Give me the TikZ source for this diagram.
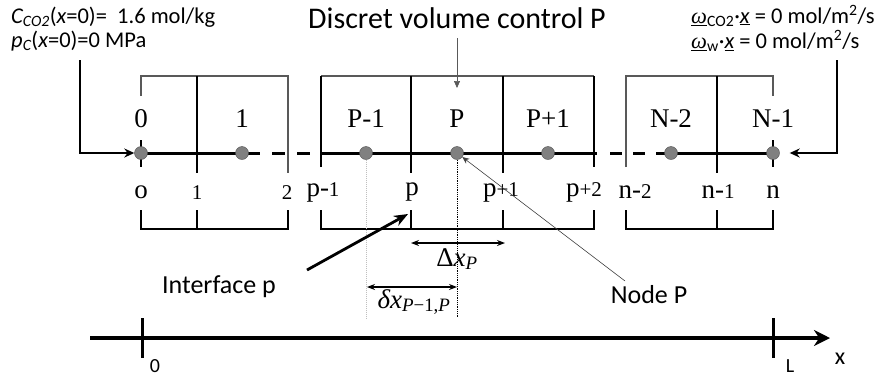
\documentclass[tikz,border=0pt]{standalone}
\usepackage{fontspec}
\setmainfont{Liberation Serif}
\newfontfamily\calibri{Carlito}
\usetikzlibrary{arrows.meta,positioning}

\newcommand{\dg}[1]{{\fontsize{21}{24}\selectfont #1}}

\tikzset{
  cvnode/.style={circle,fill=gray,draw=gray!60!black,line width=0.4pt,inner sep=0pt,minimum size=13pt},
  cell/.style={font=\fontsize{27}{30}\selectfont},
  face/.style={font=\fontsize{27}{30}\selectfont},
  sans/.style={font=\calibri\fontsize{22.5}{24}\selectfont,inner sep=0pt},
  tag/.style={font=\calibri\fontsize{26}{28}\selectfont},
  wall/.style={draw=gray!70!black,line width=1.3pt},
  edge/.style={line width=1.6pt},
  iface/.style={line width=2.2pt},
  mesh/.style={line width=3pt},
  dim/.style={line width=1.2pt,{Stealth[length=8pt,width=6pt]}-{Stealth[length=8pt,width=6pt]}},
}

\begin{document}
\begin{tikzpicture}[x=1pt,y=-1pt]
\useasboundingbox (0,0) rectangle (883,376);

% boundary conditions
\node[sans,anchor=west] (bcl1) at (11,17) {{\itshape C}\textsubscript{\itshape CO2}({\itshape x}=0)=~ 1.6 mol/kg};
\node[sans,anchor=west] (bcl2) at (11,41) {{\itshape p}\textsubscript{\itshape C}({\itshape x}=0)=0 MPa};
\node[sans,anchor=west] (bcr1) at (691,16) {\underline{\rmfamily\itshape ω}\textsubscript{CO2}·\underline{\itshape x} = 0 mol/m\textsuperscript{2}/s};
\node[sans,anchor=west] (bcr2) at (691,41) {\underline{\rmfamily\itshape ω}\textsubscript{w}·\underline{\itshape x} = 0 mol/m\textsuperscript{2}/s};

% top of the cells
\draw[wall] (141,96) -- (141,76) -- (288,76) -- (288,173);
\draw[wall] (321,76) -- (594,76);
\draw[edge] (321,167) -- (321,76);
\draw[edge] (594,76) -- (594,167);
\draw[wall] (626,167) -- (626,76) -- (773,76) -- (773,96);
\foreach \x in {197,411,503,717}
  \draw[iface] (\x,76) -- (\x,173);

% mesh line
\coordinate (d1) at (260,153);
\coordinate (d2) at (272,153);
\coordinate (d3) at (321,153);
\coordinate (d4) at (597,153);
\coordinate (d5) at (610,153);
\coordinate (d6) at (666,153);
\draw[mesh] (141,153) -- (d1);
\draw[mesh,dash pattern=on 13pt off 12pt] (d2) -- (d3);
\draw[mesh] (d3) -- (d4);
\draw[mesh,dash pattern=on 12pt off 11pt] (d5) -- (d6);
\draw[mesh] (d6) -- (773,153);
\draw[line width=1.5pt] (141,140) -- (141,167);
\draw[line width=1.5pt] (773,140) -- (773,167);

% nodes
\node[cvnode] (n0) at (141,153) {};
\node[cvnode] (n1) at (242,153) {};
\node[cvnode] (nPm) at (366,153) {};
\node[cvnode] (nP) at (457,153) {};
\node[cvnode] (nPp) at (548,153) {};
\node[cvnode] (nNm) at (671,153) {};
\node[cvnode] (nN) at (773,153) {};

\node[cell] at (141,119) {0};
\node[cell] at (242,119) {1};
\node[cell] at (366,119) {P-1};
\node[cell] at (457,119) {P};
\node[cell] at (548,119) {P+1};
\node[cell] at (671,119) {N-2};
\node[cell] at (773,119) {N-1};

% boundary arrows
\coordinate (bl) at (80,60);
\coordinate (br) at (837,60);
\draw[line width=1.8pt,-{Stealth[length=10pt,width=9pt]}] (bl) |- (n0.west);
\draw[line width=1.8pt,-{Stealth[length=10pt,width=9pt]},shorten >=10pt] (br) |- (nN.east);

% face labels
\node[face] at (141,192) {o};
\node[face] at (197,193) {\dg{1}};
\node[face] at (287,193) {\dg{2}};
\node[face] at (323,192) {p-\dg{1}};
\node[face] at (412,192) {p};
\node[face] at (501,192) {p\dg{+1}};
\node[face] at (584,192) {p\dg{+2}};
\node[face] at (635,192) {n-\dg{2}};
\node[face] at (718,192) {n-\dg{1}};
\node[face] at (773,192) {n};

% bottom brackets
\draw[line width=1.5pt] (141,210) -- (141,229) -- (288,229) -- (288,210);
\draw[line width=1.5pt] (321,210) -- (321,229) -- (594,229) -- (594,210);
\draw[line width=1.5pt] (626,210) -- (626,229) -- (773,229) -- (773,210);
\foreach \x in {197,411,503,717}
  \draw[line width=1.5pt] (\x,210) -- (\x,229);

% control volume P
\node[font=\calibri\fontsize{30}{32}\selectfont] (dvc) at (457,18) {Discret volume control P};
\coordinate (cvP) at (457,88);
\draw[gray!70!black,line width=0.7pt,-{Triangle[length=7pt,width=6pt]},shorten <=6pt] (dvc) -- (cvP);

% distances
\draw[gray!50,densely dotted,line width=1pt] (nPm.south) -- (366,318);
\draw[densely dotted,line width=0.8pt] (nP.south) -- (457,318);
\coordinate (dxa) at (411,243);
\coordinate (dxb) at (505,243);
\draw[dim] (dxa) -- (dxb);
\node[font=\fontsize{27}{29}\selectfont] at (457,259) {Δ\textit{x}\textsubscript{\textit{P}}};
\coordinate (dda) at (367,287);
\coordinate (ddb) at (457,287);
\draw[dim] (dda) -- (ddb);
\node[font=\fontsize{27}{29}\selectfont] at (414,302) {\textit{δx}\textsubscript{\textit{P}−1,\textit{P}}};

% labels with pointers
\node[tag] (ifp) at (219,287) {Interface p};
\coordinate (ifpt) at (307,270);
\coordinate (fp) at (408,214);
\draw[line width=2.8pt,-{Stealth[length=14pt,width=11pt]}] (ifpt) -- (fp);
\node[tag] (nodP) at (649,295) {Node P};
\draw[gray!50!black,line width=0.6pt,-{Stealth[length=7pt,width=6pt]}] (625,281) -- (nP);

% x axis
\coordinate (xa) at (90,338);
\coordinate (xb) at (830,338);
\draw[line width=4pt,-{Stealth[length=16pt,width=16pt]}] (xa) -- (xb);
\draw[line width=3pt] (142,318) -- (142,358);
\draw[line width=3pt] (773,318) -- (773,358);
\node[font=\calibri\fontsize{20}{22}\selectfont] at (155,366) {0};
\node[font=\calibri\fontsize{20}{22}\selectfont] at (790,366) {L};
\node[font=\calibri\fontsize{24}{26}\selectfont] at (840,359) {x};
\end{tikzpicture}
\end{document}
